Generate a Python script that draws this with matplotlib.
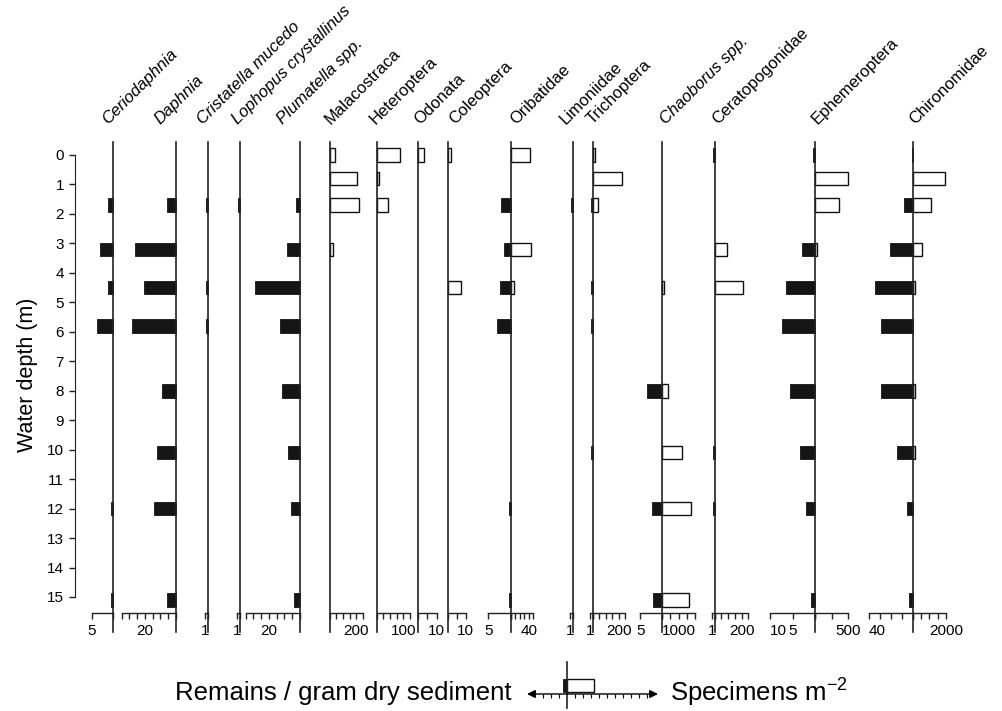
import matplotlib
matplotlib.use("Agg")
import matplotlib.pyplot as plt

plt.rcParams['font.family'] = ['Liberation Sans', 'DejaVu Sans']
plt.rcParams['mathtext.default'] = 'regular'

# ---------------- data ----------------
depths = [0, 0.8, 1.7, 3.2, 4.5, 5.8, 8.0, 10.1, 12.0, 15.1]
depth_ticks = list(range(0, 16))

taxa = ["Ceriodaphnia", "Daphnia", "Cristatella mucedo", "Lophopus crystallinus",
        "Plumatella spp.", "Malacostraca", "Heteroptera", "Odonata", "Coleoptera",
        "Oribatidae", "Limoniidae", "Trichoptera", "Chaoborus spp.",
        "Ceratopogonidae", "Ephemeroptera", "Chironomidae"]
italic_taxa = ["Ceriodaphnia", "Daphnia", "Cristatella mucedo", "Lophopus crystallinus",
               "Plumatella spp.", "Chaoborus spp."]

# remains / gram dry sediment (black bars, drawn to the left)
remains = {
    "Ceriodaphnia":          [0, 0, 1.3, 3.1, 1.3, 3.9, 0, 0, 0.4, 0.4],
    "Daphnia":               [0, 0, 5.6, 26.6, 20.8, 28.4, 9.1, 12.3, 13.9, 5.6],
    "Cristatella mucedo":    [0, 0, 0.7, 0, 0.7, 0.7, 0, 0, 0, 0],
    "Lophopus crystallinus": [0, 0, 0.8, 0, 0, 0, 0, 0, 0, 0],
    "Plumatella spp.":       [0, 0, 2.5, 8.4, 28.8, 12.5, 11.7, 7.5, 5.6, 3.5],
    "Oribatidae":            [0, 0, 2.2, 1.6, 2.4, 3.0, 0, 0, 0.4, 0.4],
    "Limoniidae":            [0, 0, 0.6, 0, 0, 0, 0, 0, 0, 0],
    "Trichoptera":           [0, 0, 0.7, 0, 0.7, 0.7, 0, 0.7, 0, 0],
    "Chaoborus spp.":        [0, 0, 0, 0, 0, 0, 3.4, 0, 2.3, 2.0],
    "Ceratopogonidae":       [0.4, 0, 0, 0, 0, 0, 0, 0.4, 0.7, 0],
    "Ephemeroptera":         [0.4, 0, 0, 3.0, 6.4, 7.4, 5.6, 3.3, 2.1, 0.8],
    "Chironomidae":          [0.5, 0, 7.6, 21, 34, 29, 28.5, 14, 5.2, 3.6],
}
# specimens m-2 (white bars, drawn to the right)
specimens = {
    "Malacostraca":    [40, 208, 217, 25, 0, 0, 0, 0, 0, 0],
    "Heteroptera":     [87, 7.5, 44, 0, 0, 0, 0, 0, 0, 0],
    "Odonata":         [3.3, 0, 0, 0, 0, 0, 0, 0, 0, 0],
    "Coleoptera":      [1.8, 0, 0, 0, 7.3, 0, 0, 0, 0, 0],
    "Oribatidae":      [42.5, 0, 0, 44.7, 7.5, 0, 0, 0, 0, 0],
    "Trichoptera":     [15, 228, 38, 0, 0, 0, 0, 0, 0, 0],
    "Chaoborus spp.":  [0, 0, 0, 0, 120, 0, 366, 1180, 1730, 1630],
    "Ceratopogonidae": [0, 0, 0, 95, 214, 0, 0, 0, 0, 0],
    "Ephemeroptera":   [0, 500, 365, 25, 0, 0, 0, 0, 0, 0],
    "Chironomidae":    [0, 1960, 1080, 560, 160, 0, 160, 160, 0, 0],
}

# bottom scale ticks and labelled values per side
left_ticks = {
    "Ceriodaphnia": [0, 5], "Daphnia": [0, 5, 10, 15, 20, 25, 30, 35],
    "Cristatella mucedo": [0, 1], "Lophopus crystallinus": [0, 1],
    "Plumatella spp.": [0, 5, 10, 15, 20, 25, 30, 35], "Oribatidae": [0, 5],
    "Limoniidae": [0, 1], "Trichoptera": [0, 1], "Chaoborus spp.": [0, 5],
    "Ceratopogonidae": [0, 1], "Ephemeroptera": [0, 5, 10],
    "Chironomidae": [0, 10, 20, 30, 40],
}
left_labels = {
    "Ceriodaphnia": [5], "Daphnia": [20], "Cristatella mucedo": [1],
    "Lophopus crystallinus": [1], "Plumatella spp.": [20], "Oribatidae": [5],
    "Limoniidae": [1], "Trichoptera": [1], "Chaoborus spp.": [5],
    "Ceratopogonidae": [1], "Ephemeroptera": [5, 10], "Chironomidae": [40],
}
right_ticks = {
    "Malacostraca": [0, 50, 100, 150, 200, 250],
    "Heteroptera": [0, 25, 50, 75, 100, 125],
    "Odonata": [0, 5, 10], "Coleoptera": [0, 5, 10],
    "Oribatidae": [0, 10, 20, 30, 40, 50],
    "Trichoptera": [0, 50, 100, 150, 200, 250],
    "Chaoborus spp.": [0, 500, 1000, 1500, 2000],
    "Ceratopogonidae": [0, 50, 100, 150, 200, 250],
    "Ephemeroptera": [0, 250, 500],
    "Chironomidae": [0, 500, 1000, 1500, 2000],
}
right_labels = {
    "Malacostraca": [200], "Heteroptera": [100], "Odonata": [10], "Coleoptera": [10],
    "Oribatidae": [40], "Trichoptera": [200], "Chaoborus spp.": [1000],
    "Ceratopogonidae": [200], "Ephemeroptera": [500], "Chironomidae": [2000],
}
# outermost left labels that sit to the right of their tick
left_label_ha_left = ["Ephemeroptera", "Chironomidae"]

# legend example
legend_remains = [0.5]
legend_specimens = [3.4]
legend_ticks = [-3, -2, -1, 1, 2, 3, 4, 5, 6, 7, 8, 9, 10]

# ---------------- layout (pixels) ----------------
W, H = 1003, 711
zero_x = {
    "Ceriodaphnia": 113, "Daphnia": 175.7, "Cristatella mucedo": 208.3,
    "Lophopus crystallinus": 240, "Plumatella spp.": 299.7, "Malacostraca": 329.7,
    "Heteroptera": 376.7, "Odonata": 418.3, "Coleoptera": 447.7, "Oribatidae": 511,
    "Limoniidae": 572.7, "Trichoptera": 592.7, "Chaoborus spp.": 662.3,
    "Ceratopogonidae": 714.7, "Ephemeroptera": 815, "Chironomidae": 912.7,
}
label_x = {
    "Ceriodaphnia": 108, "Daphnia": 160, "Cristatella mucedo": 203,
    "Lophopus crystallinus": 238, "Plumatella spp.": 283, "Malacostraca": 331,
    "Heteroptera": 376, "Odonata": 420, "Coleoptera": 455, "Oribatidae": 516,
    "Limoniidae": 566, "Trichoptera": 593, "Chaoborus spp.": 666,
    "Ceratopogonidae": 718, "Ephemeroptera": 818, "Chironomidae": 915,
}
# px per unit
left_scale = {
    "Ceriodaphnia": 4.2, "Daphnia": 1.54, "Cristatella mucedo": 3.0,
    "Lophopus crystallinus": 3.0, "Plumatella spp.": 1.54, "Oribatidae": 4.5,
    "Limoniidae": 3.0, "Trichoptera": 3.0, "Chaoborus spp.": 4.4,
    "Ceratopogonidae": 3.0, "Ephemeroptera": 4.5, "Chironomidae": 1.1,
}
right_scale = {
    "Malacostraca": 0.1333, "Heteroptera": 0.2667, "Odonata": 1.84, "Coleoptera": 1.8,
    "Oribatidae": 0.447, "Trichoptera": 0.13, "Chaoborus spp.": 0.0164,
    "Ceratopogonidae": 0.134, "Ephemeroptera": 0.0667, "Chironomidae": 0.0167,
}

y_top_px, y_bot_px = 148.0, 612.7
px_per_m = (597 - 155) / 15.0
ylim_top = (y_top_px - 155) / px_per_m
ylim_bot = (y_bot_px - 155) / px_per_m
ax_y0 = 1 - y_bot_px / H
ax_h = (y_bot_px - y_top_px) / H
line_top = 1 + (y_top_px - 142) / (y_bot_px - y_top_px)
line_bot = -(632 - y_bot_px) / (y_bot_px - y_top_px)

bar_h = 0.46
line_col = '#222222'
fs_tick = 11

fig = plt.figure(figsize=(W / 100, H / 100), dpi=100)


def style_axes(ax, ticks, labels):
    for s in ['top', 'left', 'right']:
        ax.spines[s].set_visible(False)
    ax.spines['bottom'].set_bounds(min(ticks), max(ticks))
    ax.spines['bottom'].set_linewidth(1.0)
    ax.spines['bottom'].set_color(line_col)
    ax.set_ylim(ylim_bot, ylim_top)
    ax.set_yticks([])
    ax.set_xticks(ticks)
    ax.set_xticklabels([str(t) if t in labels else '' for t in ticks])
    ax.tick_params(axis='x', direction='out', length=4, width=1.0, pad=4,
                   labelsize=fs_tick, color=line_col)
    ax.patch.set_alpha(0)


for name in taxa:
    z = zero_x[name]
    zero_ax = None
    if name in remains:
        mt = max(left_ticks[name])
        w = mt * left_scale[name]
        axl = fig.add_axes([(z - w) / W, ax_y0, w / W, ax_h])
        axl.set_xlim(mt, 0)
        style_axes(axl, left_ticks[name], left_labels[name])
        if name in left_label_ha_left:
            for lab, t in zip(axl.get_xticklabels(), left_ticks[name]):
                if t == mt:
                    lab.set_ha('left')
                    lab.set_x(t)
            axl.xaxis.get_major_ticks()[-1].label1.set_horizontalalignment('left')
        d = [dp for dp, v in zip(depths, remains[name]) if v > 0]
        v = [v for v in remains[name] if v > 0]
        axl.barh(d, v, height=bar_h, color='#151515', edgecolor='#151515',
                 linewidth=0.6, clip_on=False, zorder=2)
        zero_ax = axl
    if name in specimens:
        mt = max(right_ticks[name])
        w = mt * right_scale[name]
        axr = fig.add_axes([z / W, ax_y0, w / W, ax_h])
        axr.set_xlim(0, mt)
        style_axes(axr, right_ticks[name], right_labels[name])
        d = [dp for dp, v in zip(depths, specimens[name]) if v > 0]
        v = [v for v in specimens[name] if v > 0]
        axr.barh(d, v, height=bar_h, color='white', edgecolor='#111111',
                 linewidth=1.0, clip_on=False, zorder=2)
        zero_ax = axr
    zero_ax.axvline(0, ymin=line_bot, ymax=line_top, color=line_col, lw=1.2,
                    clip_on=False, zorder=3)
    style = 'italic' if name in italic_taxa else 'normal'
    fig.text(label_x[name] / W, 1 - 125 / H, name, rotation=45,
             rotation_mode='anchor', ha='left', va='baseline',
             fontsize=12, style=style)

# depth axis
axd = fig.add_axes([75 / W, ax_y0, 0.001, ax_h])
for s in ['top', 'bottom', 'right']:
    axd.spines[s].set_visible(False)
axd.spines['left'].set_bounds(0, 15)
axd.spines['left'].set_color(line_col)
axd.set_ylim(ylim_bot, ylim_top)
axd.set_xticks([])
axd.set_yticks(depth_ticks)
axd.set_yticklabels([str(t) for t in depth_ticks])
axd.tick_params(axis='y', direction='out', length=4, width=1.0, pad=4,
                labelsize=fs_tick, color=line_col)
axd.patch.set_alpha(0)
fig.text(28 / W, 1 - 375 / H, 'Water depth (m)', rotation=90, ha='center',
         va='center', fontsize=15.5)

# legend key
lx0, lx1 = 527, 658
ly_top, ly_bot = 660, 710
unit = 8.0
axk = fig.add_axes([lx0 / W, 1 - ly_bot / H, (lx1 - lx0) / W, (ly_bot - ly_top) / H])
xmin = -(567 - lx0) / unit
xmax = (lx1 - 567) / unit
axk.set_xlim(xmin, xmax)
axk.set_ylim(0, 1)
axk.axis('off')
yl = (ly_bot - 694) / (ly_bot - ly_top)
yb = (ly_bot - 685.5) / (ly_bot - ly_top)
hb = 13 / (ly_bot - ly_top)
axk.barh([yb], [-v for v in legend_remains], height=hb, color='#151515',
         edgecolor='#151515', linewidth=0.6)
axk.barh([yb], legend_specimens, height=hb, color='white', edgecolor='#111111',
         linewidth=1.0)
axk.axvline(0, ymin=0.04, ymax=0.96, color=line_col, lw=1.2)
axk.annotate('', xy=(xmin, yl), xytext=(0, yl),
             arrowprops=dict(arrowstyle='-|>', color='black', lw=1.0,
                             mutation_scale=12, shrinkA=0, shrinkB=0))
axk.annotate('', xy=(xmax, yl), xytext=(0, yl),
             arrowprops=dict(arrowstyle='-|>', color='black', lw=1.0,
                             mutation_scale=12, shrinkA=0, shrinkB=0))
axk.vlines(legend_ticks, yl - 0.07, yl, color='black', lw=0.8)

fig.text(512 / W, 1 - 693 / H, 'Remains / gram dry sediment', ha='right',
         va='center', fontsize=18.5)
fig.text(670 / W, 1 - 693 / H, 'Specimens m$^{-2}$', ha='left', va='center',
         fontsize=18.5)

fig.savefig('out.png', dpi=100)
